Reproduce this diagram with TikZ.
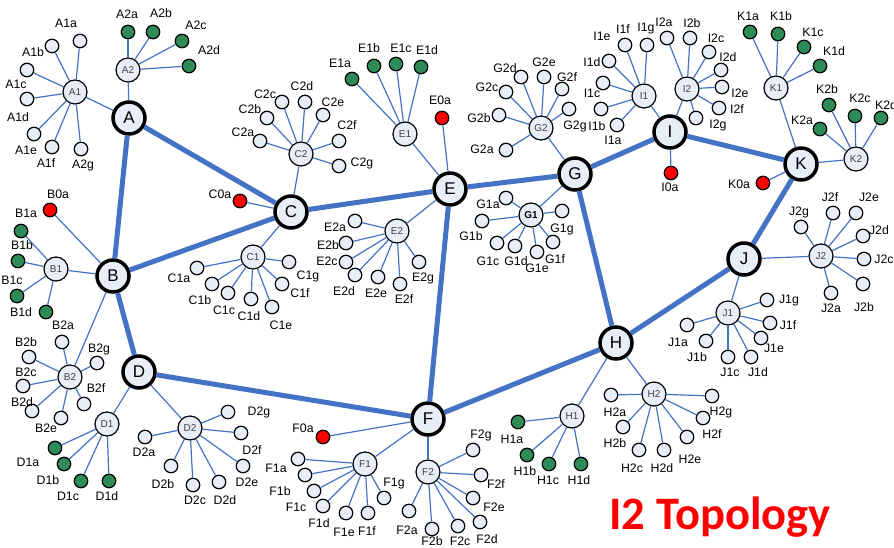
\documentclass[tikz,border=0pt]{standalone}
\usepackage{fontspec}
\setmainfont{Liberation Sans}
\newfontfamily\titlefont{Carlito}
\definecolor{linkblue}{RGB}{68,114,196}
\definecolor{nodefill}{RGB}{232,238,248}
\definecolor{leafgreen}{RGB}{46,139,87}
\definecolor{midtext}{RGB}{64,64,64}
\begin{document}
\begin{tikzpicture}[x=1pt,y=-1pt,
  big/.style={circle,draw=black,line width=3.5pt,fill=nodefill,minimum size=32pt,inner sep=0pt,font=\fontsize{17}{17}\selectfont},
  mid/.style={circle,draw=black,line width=1.2pt,fill=nodefill,minimum size=24pt,inner sep=0pt,font=\fontsize{10}{10}\selectfont,text=midtext},
  leaf/.style={circle,draw=black,line width=1.2pt,fill=nodefill,minimum size=13.5pt,inner sep=0pt},
  gleaf/.style={leaf,fill=leafgreen},
  rleaf/.style={leaf,fill=red},
  lbl/.style={inner sep=0pt,font=\fontsize{12.3}{12.3}\selectfont},
  trunk/.style={line width=5pt,draw=linkblue},
  twig/.style={line width=1.2pt,draw=linkblue}]
\useasboundingbox (0,0) rectangle (894,548);

% backbone nodes
\foreach \n/\x/\y in {A/129/118,B/113/276,C/291/212,D/139/372,E/450/189,F/428/419,G/575/174,H/616/343,I/670/132,J/744/259,K/801/164}
  {\node[big] (\n) at (\x,\y) {\n};}

% backbone links
\foreach \a/\b in {A/B,A/C,B/C,B/D,C/E,D/F,E/F,E/G,F/H,G/H,G/I,H/J,I/K,J/K}
  {\draw[trunk] (\a) -- (\b);}

% second level nodes
\foreach \p/\n/\x/\y in {A/A1/75/92,A/A2/128/70,B/B1/56/269,B/B2/70/377,C/C1/253/257,C/C2/301/154,
  D/D1/107/424,D/D2/190/428,E/E1/405/134,E/E2/397/231,F/F1/365/464,F/F2/428/472,
  G/G2/541/128,H/H1/572/416,H/H2/654/394,I/I1/644/96,I/I2/687/89,J/J1/728/313,J/J2/821/256,K/K1/776/88,K/K2/856/159}
  {\node[mid] (\n) at (\x,\y) {\n}; \draw[twig] (\n) -- (\p);}
\node[mid,text=black,font=\fontsize{10}{10}\selectfont\bfseries] (G1) at (531,215) {G1};
\draw[twig] (G1) -- (G);

% red nodes
\foreach \p/\n/\x/\y/\lx/\ly in {B/B0a/50/210/58/194,C/C0a/240/201/220/194,E/E0a/442/118/440/100,
  F/F0a/323/437/303/428,I/I0a/671/173/670/187,K/K0a/763/183/739/184}
  {\node[rleaf] (\n) at (\x,\y) {}; \node[lbl] (t\n) at (\lx,\ly) {\n}; \draw[twig] (\p) -- (\n);}

% green leaves
\foreach \p/\n/\x/\y/\lx/\ly in {
  A2/A2a/128/32/127/14, A2/A2b/153/32/161/13, A2/A2c/182/41/196/25, A2/A2d/189/66/209/50,
  B1/B1a/21/231/26/213, B1/B1b/18/261/22/245, B1/B1c/17/296/12/280, B1/B1d/46/312/21/312,
  D1/D1a/55/448/28/462, D1/D1b/64/464/48/480, D1/D1c/81/481/68/496, D1/D1d/109/481/107/496,
  E1/E1a/352/79/340/63, E1/E1b/374/66/369/48, E1/E1c/396/64/401/48, E1/E1d/421/67/427/50,
  H1/H1a/518/422/512/439, H1/H1b/527/455/525/471, H1/H1c/549/464/548/480, H1/H1d/581/464/579/480,
  K1/K1a/750/32/748/16, K1/K1b/778/34/781/16, K1/K1c/804/47/813/32, K1/K1d/820/66/834/51,
  K2/K2a/820/129/802/120, K2/K2b/829/105/827/89, K2/K2c/855/116/860/98, K2/K2d/881/118/886/105}
  {\node[gleaf] (\n) at (\x,\y) {}; \node[lbl] (t\n) at (\lx,\ly) {\n}; \draw[twig] (\p) -- (\n);}

% plain leaves
\foreach \p/\n/\x/\y/\lab/\lx/\ly in {
  A1/A1a/80/41/A1a/66/23, A1/A1b/52/46/A1b/33/52, A1/A1c/27/70/A1c/16/84, A1/A1d/27/99/A1d/18/117,
  A1/A1e/34/134/A1e/26/150, A1/A1f/52/147/A1f/46/163, A1/A1g/81/149/A2g/83/165,
  B2/B2a/62/342/B2a/63/325, B2/B2b/29/357/B2b/26/342, B2/B2c/23/386/B2c/26/372, B2/B2d/32/411/B2d/22/402,
  B2/B2e/61/418/B2e/46/428, B2/B2f/84/404/B2f/96/388, B2/B2g/97/363/B2g/99/349,
  C1/C1a/197/268/C1a/179/278, C1/C1b/212/284/C1b/200/300, C1/C1c/228/293/C1c/224/310, C1/C1d/251/299/C1d/249/316,
  C1/C1e/272/307/C1e/281/325, C1/C1f/282/284/C1f/300/293, C1/C1g/289/262/C1g/308/276,
  C2/C2a/260/141/C2a/243/132, C2/C2b/267/118/C2b/250/109, C2/C2c/282/102/C2c/265/94, C2/C2d/305/102/C2d/302/86,
  C2/C2e/323/115/C2e/333/102, C2/C2f/339/141/C2f/347/125, C2/C2g/339/166/C2g/362/163,
  D2/D2a/145/437/D2a/144/452, D2/D2b/171/466/D2b/163/484, D2/D2c/193/485/D2c/195/500, D2/D2d/219/482/D2d/225/500,
  D2/D2e/243/466/D2e/247/482, D2/D2f/241/433/D2f/252/450, D2/D2g/228/412/D2g/259/412,
  E2/E2a/355/221/E2a/335/227, E2/E2b/346/243/E2b/328/245, E2/E2c/346/262/E2c/327/261, E2/E2d/355/275/E2d/344/291,
  E2/E2e/378/277/E2e/376/293, E2/E2f/400/284/E2f/404/299, E2/E2g/419/262/E2g/423/278,
  F1/F1a/298/459/F1a/276/468, F1/F1b/305/475/F1b/280/491, F1/F1c/314/491/F1c/296/507, F1/F1d/323/506/F1d/319/523,
  F1/F1e/346/513/F1e/344/532, F1/F1f/368/513/F1f/367/531, F1/F1g/384/498/F1g/394/484,
  F2/F2a/409/511/F2a/407/530, F2/F2b/432/529/F2b/432/541.5, F2/F2c/458/526/F2c/460/541.5, F2/F2d/480/522/F2d/487/539,
  F2/F2e/473/498/F2e/494/507, F2/F2f/481/475/F2f/496/484, F2/F2g/473/450/F2g/481/435,
  G1/G1a/506/198/G1a/488/204, G1/G1b/482/221/G1b/471/236, G1/G1c/497/243/G1c/488/261, G1/G1d/515/246/G1d/516/261,
  G1/G1e/537/252/G1e/537/268, G1/G1f/553/242/G1f/555/259, G1/G1g/562/211/G1g/562/229,
  G2/G2a/506/150/G2a/482/149, G2/G2b/499/115/G2b/479/118, G2/G2c/506/92/G2c/487/87, G2/G2d/521/77/G2d/505/68,
  G2/G2e/544/77/G2e/544/62, G2/G2f/562/89/G2f/567/77, G2/G2g/569/109/G2g/575/126,
  H2/H2a/611/395/H2a/615/412, H2/H2b/623/427/H2b/615/443, H2/H2c/639/450/H2c/632/468, H2/H2d/664/450/H2d/662/468,
  H2/H2e/687/437/H2e/690/459, H2/H2f/703/418/H2f/712/434, H2/H2g/712/396/H2g/721/412,
  I1/I1g/647/45/I1g/646/29, I1/I1f/625/45/I1f/623/29, I1/I1e/609/61/I1e/602/36, I1/I1d/603/83/I1d/592/62,
  I1/I1c/601/109/I1c/592/93, I1/I1b/617/125/I1b/597/126,
  I2/I2a/667/38/I2a/664/22, I2/I2b/690/38/I2b/692/23, I2/I2c/709/52/I2c/716/38, I2/I2d/721/70/I2d/728/57,
  I2/I2e/722/87/I2e/740/93, I2/I2f/719/108/I2f/737/109, I2/I2g/696/118/I2g/718/125,
  J1/J1a/687/325/J1a/678/342, J1/J1b/706/341/J1b/697/357, J1/J1c/728/357/J1c/730/372, J1/J1d/751/357/J1d/758/372,
  J1/J1e/761/338/J1e/774/348, J1/J1f/770/323/J1f/788/325, J1/J1g/767/300/J1g/789/301,
  J2/J2a/831/293/J2a/831/308, J2/J2b/863/284/J2b/864/307, J2/J2c/864/259/J2c/884/259, J2/J2d/863/236/J2d/879/230,
  J2/J2e/856/213/J2e/869/197, J2/J2f/833/213/J2f/830/197, J2/J2g/801/227/J2g/799/212}
  {\node[leaf] (\n) at (\x,\y) {}; \node[lbl] (t\n) at (\lx,\ly) {\lab}; \draw[twig] (\p) -- (\n);}
\node[lbl] (tI1a) at (613,140) {I1a};

% title
\node[anchor=base,inner sep=0pt,text=red,font=\titlefont\fontsize{46.5}{46.5}\selectfont\bfseries] (title) at (720,529) {I2 Topology};
\end{tikzpicture}
\end{document}
